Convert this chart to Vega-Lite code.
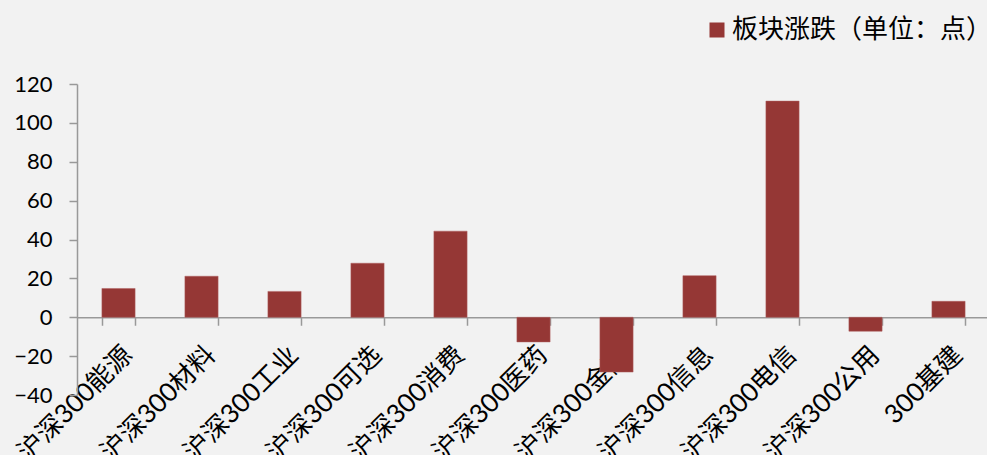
{
  "$schema": "https://vega.github.io/schema/vega-lite/v6.json",
  "autosize": {"type": "none"},
  "padding": {"left": 77, "top": 84, "right": 0, "bottom": 60},
  "width": 913,
  "height": 311,
  "background": "#f2f2f2",
  "config": {
    "view": {"stroke": null},
    "font": "Lato, 'Noto Sans CJK SC'"
  },
  "data": {
    "values": [
      {"板块": "沪深300能源", "板块涨跌（单位：点）": 14.8},
      {"板块": "沪深300材料", "板块涨跌（单位：点）": 21.1},
      {"板块": "沪深300工业", "板块涨跌（单位：点）": 13.3},
      {"板块": "沪深300可选", "板块涨跌（单位：点）": 27.8},
      {"板块": "沪深300消费", "板块涨跌（单位：点）": 44.3},
      {"板块": "沪深300医药", "板块涨跌（单位：点）": -12.7},
      {"板块": "沪深300金融", "板块涨跌（单位：点）": -28.2},
      {"板块": "沪深300信息", "板块涨跌（单位：点）": 21.4},
      {"板块": "沪深300电信", "板块涨跌（单位：点）": 111.2},
      {"板块": "沪深300公用", "板块涨跌（单位：点）": -7.2},
      {"板块": "300基建", "板块涨跌（单位：点）": 8.2}
    ]
  },
  "transform": [{"fold": ["板块涨跌（单位：点）"], "as": ["系列", "值"]}],
  "mark": {"type": "bar", "stroke": "#b06060", "strokeWidth": 0.5},
  "encoding": {
    "x": {
      "field": "板块",
      "type": "nominal",
      "sort": null,
      "scale": {"paddingInner": 0.6, "paddingOuter": 0.3},
      "axis": {
        "title": null,
        "offset": -77.75,
        "labelAngle": -45,
        "labelAlign": "right",
        "labelBaseline": "top",
        "labelFontSize": 26,
        "labelFont": "Lato, 'Noto Sans CJK SC'",
        "labelColor": "#000000",
        "labelPadding": 16,
        "labelOffset": 0,
        "labelOverlap": false,
        "tickBand": "extent",
        "tickSize": 8,
        "tickColor": "#999999",
        "domainColor": "#999999",
        "domainWidth": 1.5,
        "tickWidth": 1.5
      }
    },
    "y": {
      "field": "值",
      "type": "quantitative",
      "scale": {"domain": [-40, 120], "nice": false, "zero": false},
      "axis": {
        "title": null,
        "values": [-40, -20, 0, 20, 40, 60, 80, 100, 120],
        "grid": false,
        "labelFontSize": 22,
        "labelColor": "#000000",
        "labelPadding": 17,
        "tickSize": 8,
        "tickColor": "#999999",
        "domainColor": "#999999",
        "domainWidth": 1.5,
        "tickWidth": 1.5
      }
    },
    "color": {
      "field": "系列",
      "type": "nominal",
      "scale": {"range": ["#953735"]},
      "legend": {
        "title": null,
        "orient": "none",
        "legendX": 627,
        "legendY": -67,
        "symbolType": "square",
        "symbolSize": 225,
        "symbolStrokeWidth": 0,
        "labelOffset": 2,
        "labelFontSize": 26,
        "labelFont": "'Noto Sans CJK SC'",
        "labelColor": "#000000",
        "labelLimit": 400
      }
    }
  }
}
